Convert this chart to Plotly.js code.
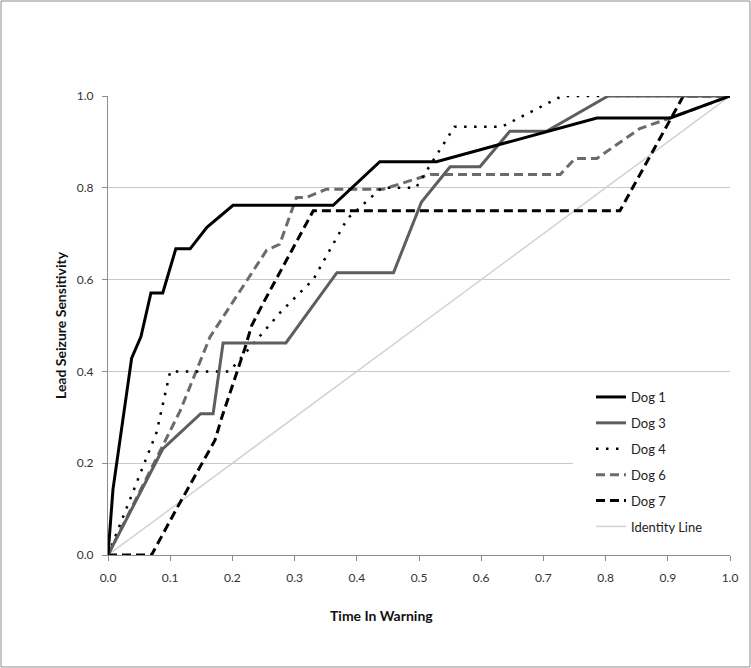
<!DOCTYPE html>
<html>
<head>
<meta charset="utf-8">
<script src="https://cdn.plot.ly/plotly-3.0.1.min.js"></script>
<style>
html,body{margin:0;padding:0;background:#fff;}
#chart{width:751px;height:668px;}
</style>
</head>
<body>
<div id="chart"></div>
<script>
// Time In Warning (x) vs Lead Seizure Sensitivity (y)
const dog1X = [0, 0.008, 0.038, 0.053, 0.069, 0.088, 0.109, 0.132, 0.159, 0.201, 0.362, 0.437, 0.528, 0.786, 0.904, 1];
const dog1Y = [0, 0.143, 0.429, 0.476, 0.571, 0.571, 0.667, 0.667, 0.714, 0.762, 0.762, 0.857, 0.857, 0.952, 0.952, 1];

const dog3X = [0, 0.088, 0.149, 0.169, 0.185, 0.286, 0.368, 0.459, 0.504, 0.55, 0.598, 0.646, 0.705, 0.804, 1];
const dog3Y = [0, 0.231, 0.308, 0.308, 0.462, 0.462, 0.615, 0.615, 0.769, 0.846, 0.846, 0.923, 0.923, 1, 1];

const dog4X = [0, 0.078, 0.1, 0.195, 0.28, 0.33, 0.385, 0.44, 0.495, 0.557, 0.633, 0.73, 1];
const dog4Y = [0, 0.267, 0.4, 0.4, 0.533, 0.6, 0.733, 0.8, 0.8, 0.933, 0.933, 1, 1];

const dog6X = [0, 0.116, 0.164, 0.225, 0.255, 0.276, 0.303, 0.319, 0.351, 0.442, 0.518, 0.727, 0.751, 0.786, 0.855, 0.904, 1];
const dog6Y = [0, 0.314, 0.475, 0.6, 0.664, 0.677, 0.779, 0.779, 0.797, 0.797, 0.829, 0.829, 0.864, 0.864, 0.929, 0.952, 1];

const dog7X = [0, 0.07, 0.11, 0.172, 0.183, 0.22, 0.231, 0.25, 0.33, 0.823, 0.925, 1];
const dog7Y = [0, 0, 0.1, 0.25, 0.3, 0.45, 0.5, 0.55, 0.75, 0.75, 1, 1];

const identityX = [0, 1];
const identityY = [0, 1];

const seriesNames = ["Dog 1", "Dog 3", "Dog 4", "Dog 6", "Dog 7", "Identity Line"];
const xTickVals = [0, 0.1, 0.2, 0.3, 0.4, 0.5, 0.6, 0.7, 0.8, 0.9, 1.0];
const yTickVals = [0, 0.2, 0.4, 0.6, 0.8, 1.0];
const xTitle = "Time In Warning";
const yTitle = "Lead Seizure Sensitivity";

const FONT = "Lato, 'Open Sans', sans-serif";

function tr(x, y, name, color, width, dash, rank) {
  return {
    x: x, y: y, name: name, type: "scatter", mode: "lines",
    line: {color: color, width: width, dash: dash},
    legendgroup: "g" + rank, legendrank: rank, cliponaxis: false, hoverinfo: "skip"
  };
}

const traces = [
  tr(identityX, identityY, seriesNames[5], "#d2d2d2", 1.5, "solid", 6),
  tr(dog7X, dog7Y, seriesNames[4], "#000000", 3, "9px,5px", 5),
  tr(dog6X, dog6Y, seriesNames[3], "#6b6b6b", 3, "9px,5px", 4),
  tr(dog4X, dog4Y, seriesNames[2], "#000000", 2.5, "2.5px,7.5px", 3),
  tr(dog3X, dog3Y, seriesNames[1], "#5e5e5e", 3, "solid", 2),
  tr(dog1X, dog1Y, seriesNames[0], "#000000", 3, "solid", 1)
];

const L = 108, R = 21, T = 96, B = 113, W = 751, H = 668;
const pw = W - L - R, ph = H - T - B;

const layout = {
  width: W, height: H,
  margin: {l: L, r: R, t: T, b: B, pad: 0},
  paper_bgcolor: "#ffffff", plot_bgcolor: "#ffffff",
  font: {family: FONT, color: "#333333", size: 12},
  showlegend: true,
  legend: {
    x: (591 - L) / pw, xanchor: "left",
    y: (555 - 382) / ph, yanchor: "top",
    bgcolor: "#ffffff", borderwidth: 0,
    font: {family: FONT, size: 13, color: "#222222"},
    traceorder: "grouped",
    tracegroupgap: 6,
    itemwidth: 30
  },
  xaxis: {
    range: [0, 1], tickvals: xTickVals, tickformat: ".1f",
    showgrid: false, zeroline: false,
    showline: true, linecolor: "#8c8c8c", linewidth: 1,
    ticks: "outside", ticklen: 5, tickcolor: "#8c8c8c", tickwidth: 1,
    ticklabelstandoff: 7,
    tickfont: {family: FONT, size: 12, color: "#333333"}
  },
  yaxis: {
    range: [0, 1], tickvals: yTickVals, tickformat: ".1f",
    showgrid: true, gridcolor: "#c8c8c8", gridwidth: 1,
    zeroline: false,
    showline: true, linecolor: "#8c8c8c", linewidth: 1,
    ticks: "outside", ticklen: 5, tickcolor: "#8c8c8c", tickwidth: 1,
    ticklabelstandoff: 6,
    tickfont: {family: FONT, size: 12, color: "#333333"},
    title: {text: "<b>" + yTitle + "</b>", font: {family: FONT, size: 14, color: "#111111"}, standoff: 6}
  },
  annotations: [{
    text: "<b>" + xTitle + "</b>", xref: "paper", yref: "paper",
    x: (381 - L) / pw, y: (555 - 615) / ph, xanchor: "center", yanchor: "middle",
    showarrow: false, font: {family: FONT, size: 14, color: "#111111"}
  }],
  shapes: [
    {
      // legend area background (covers the gridline across the whole legend block)
      type: "rect", xref: "paper", yref: "paper", layer: "above",
      x0: (573 - L) / pw, x1: (730 - L) / pw,
      y0: (555 - 540) / ph, y1: (555 - 378) / ph,
      line: {width: 0}, fillcolor: "#ffffff"
    },
    {
      type: "rect", xref: "paper", yref: "paper", layer: "above",
      x0: (1 - L) / pw, x1: (W - 1 - L) / pw,
      y0: (T + ph - (H - 1)) / ph, y1: (T + ph - 1) / ph,
      line: {color: "#8c8c8c", width: 1}, fillcolor: "rgba(0,0,0,0)"
    }
  ]
};

Plotly.newPlot("chart", traces, layout, {displayModeBar: false, staticPlot: true});
</script>
</body>
</html>
